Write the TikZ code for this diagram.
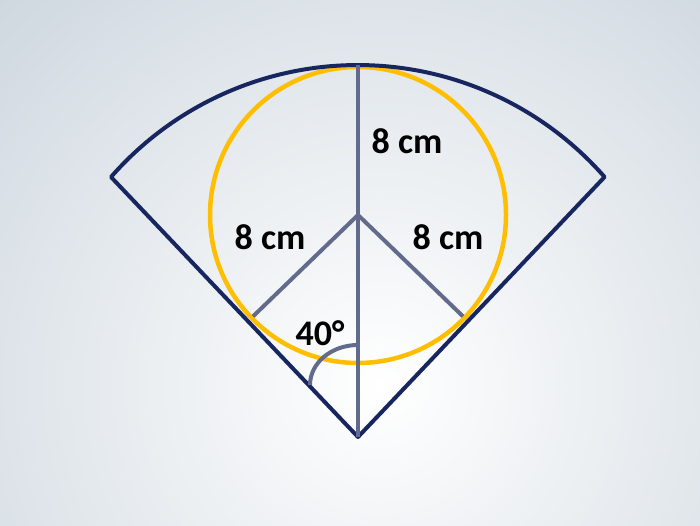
\documentclass[tikz,border=0pt]{standalone}
\usepackage{fontspec}
\setmainfont{Carlito}
\usetikzlibrary{calc}
\definecolor{navy}{RGB}{24,38,96}
\definecolor{gold}{RGB}{255,190,0}
\definecolor{slate}{RGB}{98,107,140}
\definecolor{bggray}{RGB}{200,210,219}
\tikzset{lbl/.style={font=\fontsize{36}{36}\selectfont\bfseries,inner sep=0pt}}

\begin{document}
\begin{tikzpicture}[x=1pt,y=1pt,side/.style={navy,line width=4pt,line join=round},ring/.style={gold,line width=4.5pt},rad/.style={slate,line width=4pt}]
\useasboundingbox (0,0) rectangle (700,525);
\begin{scope}
\clip (0,0) rectangle (700,525);
\shade [inner color=white,outer color=bggray] (380,140) circle (620);
\end{scope}
\coordinate (apex) at (358,88);
\coordinate (arcL) at (111,348);
\coordinate (arcR) at (606,348);
\coordinate (arcTop) at (358,460);
\coordinate (ctr) at (358,310);
\coordinate (tanL) at ($(ctr)+(224:146)$);
\coordinate (tanR) at ($(ctr)+(316:146)$);
\coordinate (angTop) at (358,180);
\draw [ring] (ctr) circle (148);
\draw [side] (apex) -- (arcL) arc [start angle=138.8,end angle=41.2,radius=328] -- cycle;
\draw [rad] (arcTop) -- (apex);
\draw [rad] (tanL) -- (ctr) -- (tanR);
\draw [rad] (angTop) arc [start angle=90,end angle=180,x radius=48,y radius=40];
\node [lbl] (rTop) at (407,384) {8 cm};
\node [lbl] (rLeft) at (270,288) {8 cm};
\node [lbl] (rRight) at (448,288) {8 cm};
\node [lbl] (ang) at (320,192) {40°};
\end{tikzpicture}
\end{document}
